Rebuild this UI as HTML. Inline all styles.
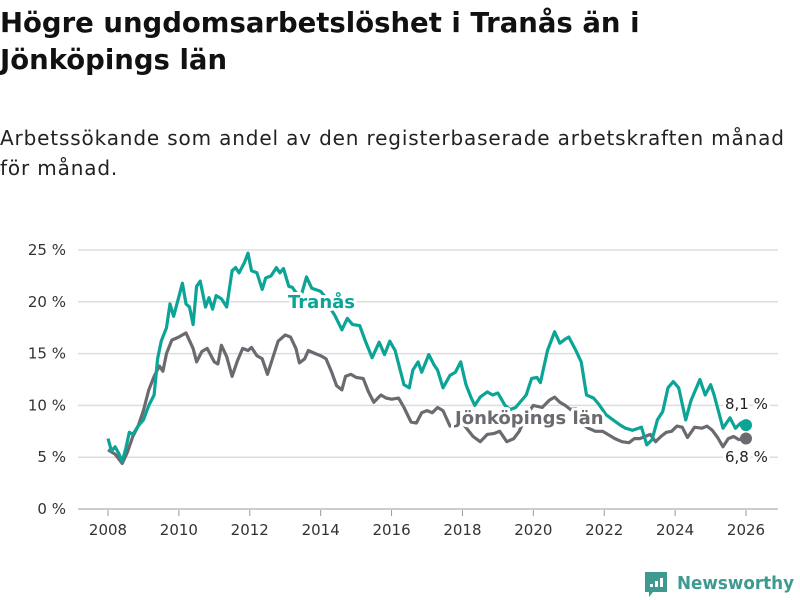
<!DOCTYPE html>
<html><head><meta charset="utf-8">
<style>
body{margin:0;width:800px;height:600px;background:#fff;font-family:"DejaVu Sans","Liberation Sans",sans-serif;overflow:hidden;position:relative}
h1{position:absolute;left:0;top:5px;margin:0;font-size:27.5px;line-height:37px;font-weight:bold;color:#111;width:800px;letter-spacing:0px}
p.sub{position:absolute;left:0;top:123px;margin:0;font-size:20px;line-height:30px;color:#222;width:800px;letter-spacing:0.85px;white-space:nowrap}
svg{position:absolute;left:0;top:0}
</style></head><body>
<h1>Högre ungdomsarbetslöshet i Tranås än i<br>Jönköpings län</h1>
<p class="sub">Arbetssökande som andel av den registerbaserade arbetskraften månad<br>för månad.</p>
<svg id="chart" width="800" height="600"></svg>
<script>
const yTicks=[0,5,10,15,20,25];
const yTickLabels=["0 %","5 %","10 %","15 %","20 %","25 %"];
const xTicks=[2008,2010,2012,2014,2016,2018,2020,2022,2024,2026];
const tranasX=[2008.0,2008.1,2008.2,2008.3,2008.4,2008.5,2008.6,2008.7,2008.85,2009.0,2009.15,2009.3,2009.4,2009.5,2009.65,2009.75,2009.85,2010.0,2010.1,2010.2,2010.3,2010.4,2010.5,2010.6,2010.75,2010.85,2010.95,2011.05,2011.2,2011.35,2011.5,2011.6,2011.7,2011.85,2011.95,2012.05,2012.2,2012.35,2012.45,2012.6,2012.75,2012.85,2012.95,2013.1,2013.2,2013.3,2013.45,2013.6,2013.75,2014.0,2014.1,2014.25,2014.4,2014.6,2014.75,2014.9,2015.1,2015.25,2015.45,2015.65,2015.8,2015.95,2016.1,2016.35,2016.5,2016.6,2016.75,2016.85,2017.05,2017.2,2017.3,2017.45,2017.65,2017.8,2017.95,2018.1,2018.25,2018.35,2018.5,2018.7,2018.85,2019.0,2019.2,2019.35,2019.5,2019.8,2019.95,2020.1,2020.2,2020.4,2020.6,2020.75,2020.9,2021.0,2021.2,2021.35,2021.5,2021.7,2021.85,2022.05,2022.25,2022.45,2022.6,2022.8,2023.05,2023.2,2023.35,2023.5,2023.65,2023.8,2023.95,2024.1,2024.3,2024.45,2024.7,2024.85,2025.0,2025.1,2025.35,2025.55,2025.7,2025.85,2026.0];
const tranasY=[6.8,5.6,6.0,5.4,4.6,5.8,7.4,7.2,8.0,8.6,10.0,11.0,14.5,16.2,17.5,19.8,18.6,20.5,21.8,19.8,19.5,17.8,21.5,22.0,19.5,20.4,19.3,20.6,20.3,19.5,23.0,23.3,22.8,23.8,24.7,23.0,22.8,21.2,22.3,22.5,23.3,22.8,23.2,21.5,21.4,20.9,20.6,22.4,21.3,21.0,20.6,19.5,18.7,17.3,18.4,17.8,17.7,16.3,14.6,16.1,14.9,16.2,15.3,12.0,11.7,13.4,14.2,13.2,14.9,13.9,13.4,11.7,12.9,13.2,14.2,12.0,10.7,10.0,10.8,11.3,11.0,11.2,10.0,9.6,9.8,11.0,12.6,12.7,12.2,15.3,17.1,16.0,16.4,16.6,15.3,14.2,11.0,10.7,10.1,9.1,8.6,8.1,7.8,7.6,7.9,6.2,6.7,8.6,9.4,11.7,12.3,11.7,8.6,10.5,12.5,11.0,12.0,11.0,7.8,8.8,7.8,8.3,8.1];
const jonkX=[2008.0,2008.2,2008.4,2008.55,2008.7,2008.85,2009.0,2009.15,2009.3,2009.45,2009.55,2009.65,2009.8,2010.0,2010.2,2010.4,2010.5,2010.65,2010.8,2011.0,2011.1,2011.2,2011.35,2011.5,2011.65,2011.8,2011.95,2012.05,2012.2,2012.35,2012.5,2012.65,2012.8,2013.0,2013.15,2013.3,2013.4,2013.55,2013.65,2013.85,2014.0,2014.15,2014.3,2014.45,2014.6,2014.7,2014.85,2015.0,2015.2,2015.35,2015.5,2015.7,2015.85,2016.0,2016.2,2016.35,2016.55,2016.7,2016.85,2017.0,2017.15,2017.3,2017.45,2017.65,2017.85,2018.0,2018.3,2018.5,2018.7,2018.9,2019.05,2019.25,2019.45,2019.6,2019.8,2020.0,2020.25,2020.45,2020.6,2020.75,2020.9,2021.05,2021.2,2021.35,2021.55,2021.75,2021.95,2022.1,2022.3,2022.5,2022.7,2022.85,2023.0,2023.15,2023.3,2023.45,2023.6,2023.75,2023.9,2024.05,2024.2,2024.35,2024.55,2024.75,2024.9,2025.05,2025.2,2025.35,2025.5,2025.65,2025.8,2026.0];
const jonkY=[5.7,5.3,4.4,5.5,7.0,8.0,9.5,11.5,12.8,13.8,13.3,15.0,16.3,16.6,17.0,15.5,14.2,15.2,15.5,14.2,14.0,15.8,14.7,12.8,14.3,15.5,15.3,15.6,14.8,14.5,13.0,14.6,16.2,16.8,16.6,15.5,14.1,14.5,15.3,15.0,14.8,14.5,13.3,11.9,11.5,12.8,13.0,12.7,12.6,11.3,10.3,11.0,10.7,10.6,10.7,9.8,8.4,8.3,9.3,9.5,9.3,9.8,9.5,8.0,8.3,8.3,7.0,6.5,7.2,7.3,7.5,6.5,6.8,7.5,9.0,10.0,9.8,10.5,10.8,10.3,10.0,9.6,9.7,8.3,7.8,7.5,7.5,7.2,6.8,6.5,6.4,6.8,6.8,7.0,7.2,6.5,7.0,7.4,7.5,8.0,7.9,6.9,7.9,7.8,8.0,7.6,6.9,6.0,6.8,7.0,6.7,6.8];
const NS="http://www.w3.org/2000/svg";
const svg=document.getElementById('chart');
const xS=v=>108+(v-2008)*(638/18);
const yS=v=>509-v*10.36;
function mk(t,a){const e=document.createElementNS(NS,t);for(const k in a)e.setAttribute(k,a[k]);svg.appendChild(e);return e;}
yTicks.forEach((t,i)=>{
  const g=mk('line',{x1:78,x2:778,y1:yS(t),y2:yS(t),stroke:t===0?'#bbb':'#ddd','stroke-width':1.5});
  
  
  const l=mk('text',{x:66,y:yS(t)+5,'text-anchor':'end','font-size':15,fill:'#333'});
  l.textContent=yTickLabels[i];
  
  
});
xTicks.forEach(t=>{
  const tk=mk('line',{x1:xS(t),x2:xS(t),y1:510,y2:516,stroke:'#999','stroke-width':1});
  
  
  const l=mk('text',{x:xS(t),y:535,'text-anchor':'middle','font-size':15,fill:'#333'});
  l.textContent=t;
  
  
});
function line(xs,ys,c,name){
  const d=xs.map((x,i)=>(i?'L':'M')+xS(x).toFixed(1)+','+yS(ys[i]).toFixed(1)).join('');
  const p=mk('path',{d:d,fill:'none',stroke:c,'stroke-width':3.2,'stroke-linejoin':'round'});
  
  
  const n=xs.length-1;
  const dot=mk('circle',{cx:xS(xs[n]),cy:yS(ys[n]),r:6,fill:c});
  
  
}
line(jonkX,jonkY,'#6c6a70','jonkoping-line');
line(tranasX,tranasY,'#0ba496','tranas-line');
function lab(txt,x,y,c,name,bold,sz,halo){
  const t=mk('text',{x:x,y:y,'font-size':sz,'font-weight':bold?'bold':'normal',fill:c});
  if(halo){t.setAttribute('stroke','#fff');t.setAttribute('stroke-width',6);t.setAttribute('paint-order','stroke');t.setAttribute('stroke-linejoin','round');}
  t.textContent=txt;
  
  
}
lab('Tranås',288,308,'#0ba496','tranas-label',true,18,true);
lab('Jönköpings län',455,424,'#6c6a70','jonkoping-label',true,18,true);
lab('8,1 %',725,409,'#222','tranas-end-value',false,15,true);
lab('6,8 %',725,462,'#222','jonkoping-end-value',false,15,true);
const lg=mk('g',{});


const r=document.createElementNS(NS,'path');
r.setAttribute('d','M645,572 h22 v20 h-14 l-4,5 v-5 h-4 z');r.setAttribute('fill','#3d9a90');lg.appendChild(r);
[[650,584,3],[655,581,6],[660,578,9]].forEach(b=>{const e=document.createElementNS(NS,'rect');e.setAttribute('x',b[0]);e.setAttribute('y',b[1]);e.setAttribute('width',3);e.setAttribute('height',b[2]);e.setAttribute('fill','#fff');lg.appendChild(e);});
svg.appendChild(lg);
const wm=mk('text',{x:677,y:589,'font-size':17.5,'font-weight':'bold',fill:'#3d9a90',textLength:117,lengthAdjust:'spacingAndGlyphs'});
wm.textContent='Newsworthy';


</script>
</body></html>
